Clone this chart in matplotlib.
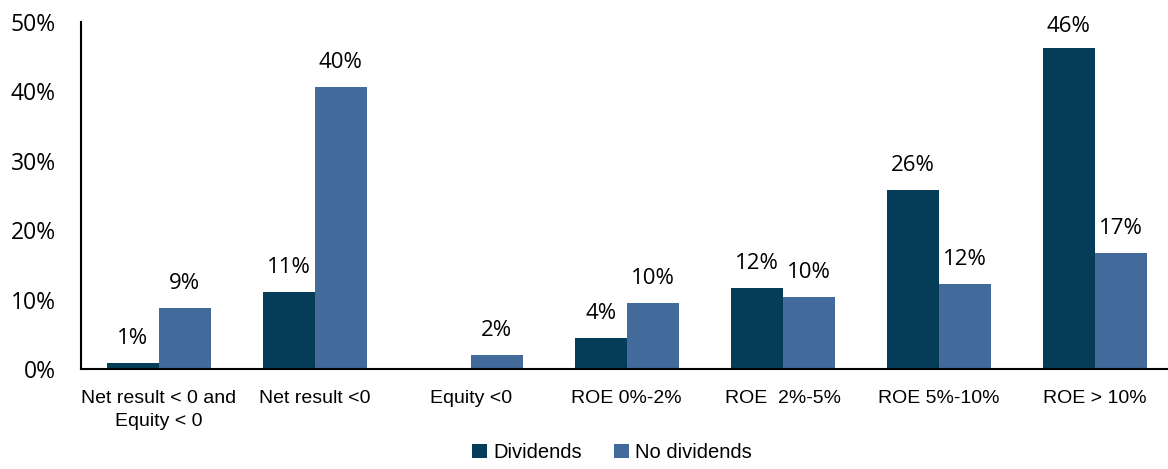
import matplotlib.pyplot as plt
import numpy as np

categories = ["Net result < 0 and\nEquity < 0", "Net result <0", "Equity <0",
              "ROE 0%-2%", "ROE  2%-5%", "ROE 5%-10%", "ROE > 10%"]
dividends = [0.9, 11.1, 0.0, 4.5, 11.7, 25.8, 46.2]
no_dividends = [8.8, 40.6, 2.0, 9.5, 10.4, 12.2, 16.7]
div_labels = ["1%", "11%", "", "4%", "12%", "26%", "46%"]
nodiv_labels = ["9%", "40%", "2%", "10%", "10%", "12%", "17%"]

c_div = "#053d59"
c_nodiv = "#426a9b"

fig = plt.figure(figsize=(11.68, 4.69), dpi=100)
ax = fig.add_axes([0.0693, 0.2132, 0.9307, 0.7398])

x = np.arange(len(categories))
w = 0.333
b1 = ax.bar(x - w/2, dividends, w, color=c_div, label="Dividends")
b2 = ax.bar(x + w/2, no_dividends, w, color=c_nodiv, label="No dividends")

lab_font = {"family": ["Open Sans", "DejaVu Sans"], "size": 16}
for rect, t in zip(b1, div_labels):
    if t:
        # top label sits a bit closer to the bar so it stays inside
        off = 1.6 if rect.get_height() > 45 else 2.0
        ax.text(rect.get_x() + rect.get_width()/2, rect.get_height() + off, t,
                ha="center", va="bottom", **lab_font)
for rect, t in zip(b2, nodiv_labels):
    ax.text(rect.get_x() + rect.get_width()/2, rect.get_height() + 2.0, t,
            ha="center", va="bottom", **lab_font)

ax.set_ylim(0, 50)
ax.set_xlim(-0.5, 6.47)
ax.set_yticks(range(0, 51, 10))
ax.set_yticklabels([f"{v}%" for v in range(0, 51, 10)], family=["Open Sans", "DejaVu Sans"], fontsize=16.5)
ax.set_xticks(x)
ax.set_xticklabels(categories, family=["Liberation Sans Narrow", "Liberation Sans"], fontsize=14,
                   linespacing=1.5)
ax.tick_params(axis="both", length=0)
ax.tick_params(axis="y", pad=18)
ax.tick_params(axis="x", pad=15)
for s in ["top", "right"]:
    ax.spines[s].set_visible(False)
ax.spines["left"].set_linewidth(1.5)
ax.spines["bottom"].set_linewidth(1.5)

fig.legend(loc="center", bbox_to_anchor=(0.524, 0.035), ncol=2, frameon=False,
           prop={"family": ["Liberation Sans Narrow", "Liberation Sans"], "size": 14.5},
           handlelength=0.75, handleheight=0.75, handletextpad=0.3, columnspacing=1.6)

fig.savefig("out.png", dpi=100)
